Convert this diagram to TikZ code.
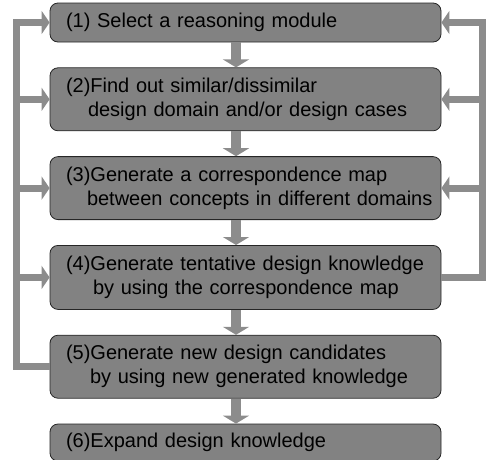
\documentclass[tikz,border=0pt]{standalone}
\usepackage{fontspec}
\setmainfont{Liberation Sans}
\usetikzlibrary{arrows.meta, positioning}
\definecolor{boxgray}{RGB}{130,130,130}
\definecolor{flowgray}{RGB}{140,140,140}
\tikzset{
>={Triangle[width=23pt,length=8pt]}, % wide flat arrow heads
node distance=25pt, % gap between two steps
stepbox/.style={draw=black!85, line width=0.8pt, fill=boxgray, rounded corners=8pt,
  text width=359pt, inner xsep=16pt, align=left, font=\fontsize{20}{24}\selectfont},
downflow/.style={draw=flowgray, line width=10pt, -{Triangle[width=26pt,length=8pt]}},
backflow/.style={draw=flowgray, line width=7pt, ->},
}

\begin{document}
\begin{tikzpicture}
  \useasboundingbox (0,0) rectangle (486pt,-459pt);
  \node[stepbox, minimum height=39pt] (s1) at (245.5pt,-22.5pt) {\mbox{(1) Select a reasoning module}};
  \node[stepbox, minimum height=63pt, below=of s1] (s2) {\mbox{(2)Find out similar/dissimilar}\\\mbox{\hspace{22pt}design domain and/or design cases}};
  \node[stepbox, minimum height=63pt, below=of s2] (s3) {\mbox{(3)Generate a correspondence map}\\\mbox{\hspace{21pt}between concepts in different domains}};
  \node[stepbox, minimum height=64pt, below=of s3] (s4) {\mbox{(4)Generate tentative design knowledge}\\\mbox{\hspace{27pt}by using the correspondence map}};
  \node[stepbox, minimum height=63pt, below=of s4] (s5) {\mbox{(5)Generate new design candidates}\\\mbox{\hspace{24pt}by using new generated knowledge}};
  \node[stepbox, minimum height=37pt, below=of s5] (s6) {\mbox{(6)Expand design knowledge}};

  % main flow
  \foreach \a/\b in {s1/s2, s2/s3, s3/s4, s4/s5, s5/s6}
    \draw[downflow] ([xshift=-9.5pt]\a.south) -- ([xshift=-9.5pt]\b.north);

  % feedback on the left, from step 5
  \coordinate[left=33.5pt of s1.west] (lt);
  \coordinate (lb) at (lt |- s5.west);
  \draw[backflow] (s5.west) -- (lb) -- (lt) -- (s1.west);
  \foreach \s in {s2, s3, s4}
    \draw[backflow] (lt |- \s.west) -- (\s.west);

  % feedback on the right, from step 4
  \coordinate[right=41.5pt of s1.east] (rt);
  \coordinate (rb) at (rt |- s4.east);
  \draw[backflow] (s4.east) -- (rb) -- (rt) -- (s1.east);
  \foreach \s in {s2, s3}
    \draw[backflow] (rt |- \s.east) -- (\s.east);
\end{tikzpicture}
\end{document}
